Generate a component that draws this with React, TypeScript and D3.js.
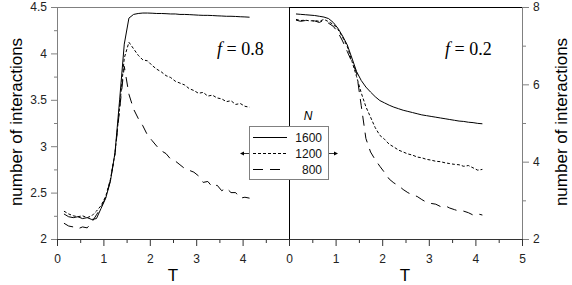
import React, { useRef, useEffect } from "react";
import * as d3 from "d3";

// temperature grid shared by all series
const temps = [
  0.15, 0.25, 0.35, 0.45, 0.55, 0.65, 0.75, 0.85, 0.95, 1.05, 1.15, 1.25, 1.35, 1.45,
  1.55, 1.65, 1.75, 1.85, 1.95, 2.05, 2.15, 2.25, 2.35, 2.45, 2.55, 2.65, 2.75, 2.85,
  2.95, 3.05, 3.15, 3.25, 3.35, 3.45, 3.55, 3.65, 3.75, 3.85, 3.95, 4.05, 4.15,
];

// f = 0.8 panel
const leftN1600 = [
  2.27, 2.24, 2.23, 2.24, 2.22, 2.23, 2.21, 2.22, 2.33, 2.44, 2.62, 2.93, 3.5, 4.1,
  4.38, 4.42, 4.43, 4.435, 4.435, 4.433, 4.43, 4.43, 4.428, 4.425, 4.425, 4.42, 4.42,
  4.418, 4.415, 4.412, 4.41, 4.41, 4.408, 4.405, 4.403, 4.4, 4.4, 4.398, 4.395, 4.393, 4.39,
];
const leftN1200 = [
  2.3, 2.27, 2.25, 2.24, 2.25, 2.23, 2.25, 2.3, 2.36, 2.46, 2.64, 2.92, 3.42, 3.95,
  4.12, 4.05, 3.98, 3.93, 3.92, 3.87, 3.83, 3.8, 3.76, 3.74, 3.7, 3.68, 3.66, 3.62,
  3.6, 3.57, 3.58, 3.54, 3.55, 3.52, 3.51, 3.48, 3.49, 3.45, 3.46, 3.43, 3.42,
];
const leftN800 = [
  2.17, 2.14, 2.13, 2.11, 2.13, 2.12, 2.18, 2.26, 2.34, 2.45, 2.63, 2.92, 3.4, 3.86,
  3.56, 3.4, 3.3, 3.22, 3.12, 3.06, 3.0, 2.95, 2.92, 2.86, 2.84, 2.8, 2.76, 2.74,
  2.72, 2.68, 2.61, 2.62, 2.56, 2.58, 2.52, 2.55, 2.5, 2.5, 2.44, 2.45, 2.44,
];

// f = 0.2 panel
const rightN1600 = [
  7.82, 7.81, 7.8, 7.79, 7.78, 7.76, 7.74, 7.7, 7.6, 7.45, 7.25, 7.02, 6.68, 6.33,
  6.1, 5.93, 5.8, 5.68, 5.58, 5.52, 5.46, 5.41, 5.37, 5.33, 5.3, 5.27, 5.24, 5.21,
  5.19, 5.17, 5.15, 5.13, 5.11, 5.09, 5.07, 5.05, 5.04, 5.02, 5.01, 4.99, 4.98,
];
const rightN1200 = [
  7.68, 7.65, 7.66, 7.64, 7.65, 7.63, 7.68, 7.62, 7.55, 7.42, 7.22, 6.98, 6.6, 6.2,
  5.78, 5.42, 5.15, 4.88, 4.68, 4.58, 4.45, 4.38, 4.3, 4.25, 4.2, 4.17, 4.12, 4.1,
  4.06, 4.04, 4.01, 4.0, 3.97, 3.95, 3.93, 3.92, 3.88, 3.9, 3.84, 3.78, 3.8,
];
const rightN800 = [
  7.66, 7.63, 7.65, 7.62, 7.64, 7.6, 7.66, 7.58, 7.5, 7.35, 7.12, 6.85, 6.58, 6.3,
  5.45, 4.6, 4.25, 4.05, 3.88, 3.72, 3.55, 3.45, 3.38, 3.28, 3.2, 3.14, 3.1, 3.02,
  2.95, 2.92, 2.9, 2.84, 2.86, 2.8, 2.76, 2.72, 2.72, 2.68, 2.62, 2.65, 2.62,
];

const leftTicks = [2, 2.5, 3, 3.5, 4, 4.5];
const leftMinor = [2.25, 2.75, 3.25, 3.75, 4.25];
const rightTicks = [2, 4, 6, 8];
const rightMinor = [3, 5, 7];
const tTicksLeft = [0, 1, 2, 3, 4];
const tTicksRight = [0, 1, 2, 3, 4, 5];
const tMinor = [0.5, 1.5, 2.5, 3.5, 4.5];
const legendN = ["1600", "1200", "800"];
const dashes = ["none", "3,2", "10,7"];

const W = 572;
const H = 285;
const SANS = "'Liberation Sans', Arial, sans-serif";
const SERIF = "'Liberation Serif', 'Times New Roman', serif";
const fmt = d3.format("");

const App: React.FC = () => {
  const svgRef = useRef<SVGSVGElement | null>(null);

  useEffect(() => {
    const svg = d3.select(svgRef.current);
    svg.selectAll("*").remove();

    const top = 7;
    const bottom = 239;
    const xL = d3.scaleLinear().domain([0, 5]).range([57, 289]);
    const xR = d3.scaleLinear().domain([0, 5]).range([289, 522]);
    const yL = d3.scaleLinear().domain([2, 4.5]).range([bottom, top]);
    const yR = d3.scaleLinear().domain([2, 8]).range([bottom, top]);

    const styleAxis = (g: any, color: string) => {
      g.attr("font-family", SANS).attr("font-size", 12).attr("color", color);
      g.selectAll("text").attr("fill", "#222");
    };

    // top frame
    svg.append("line").attr("x1", 57).attr("x2", 289).attr("y1", top + 0.5).attr("y2", top + 0.5)
      .attr("stroke", "#808080");
    svg.append("line").attr("x1", 289).attr("x2", 522).attr("y1", top + 0.5).attr("y2", top + 0.5)
      .attr("stroke", "#000");

    // left y axis
    const gl = svg.append("g").attr("transform", "translate(57,0)");
    gl.call(d3.axisLeft(yL).tickValues(leftTicks).tickSize(6).tickSizeOuter(0).tickPadding(4)
      .tickFormat(fmt as any) as any);
    styleAxis(gl, "#808080");
    const glm = svg.append("g").attr("transform", "translate(57,0)");
    glm.call(d3.axisLeft(yL).tickValues(leftMinor).tickSize(3).tickFormat(() => "") as any);
    glm.select(".domain").remove();
    glm.attr("color", "#808080");

    // right y axis
    const gr = svg.append("g").attr("transform", "translate(522,0)");
    gr.call(d3.axisRight(yR).tickValues(rightTicks).tickSize(7).tickSizeOuter(0).tickPadding(4)
      .tickFormat(fmt as any) as any);
    styleAxis(gr, "#808080");
    const grm = svg.append("g").attr("transform", "translate(522,0)");
    grm.call(d3.axisRight(yR).tickValues(rightMinor).tickSize(4).tickFormat(() => "") as any);
    grm.select(".domain").remove();
    grm.attr("color", "#808080");

    // bottom axes
    const gb1 = svg.append("g").attr("transform", `translate(0,${bottom})`);
    gb1.call(d3.axisBottom(xL).tickValues(tTicksLeft).tickSize(7).tickSizeOuter(0).tickPadding(8)
      .tickFormat(fmt as any) as any);
    styleAxis(gb1, "#333");
    const gb2 = svg.append("g").attr("transform", `translate(0,${bottom})`);
    gb2.call(d3.axisBottom(xR).tickValues(tTicksRight).tickSize(7).tickSizeOuter(0).tickPadding(8)
      .tickFormat(fmt as any) as any);
    styleAxis(gb2, "#333");
    [xL, xR].forEach((sc) => {
      const gm = svg.append("g").attr("transform", `translate(0,${bottom})`);
      gm.call(d3.axisBottom(sc).tickValues(tMinor).tickSize(4).tickFormat(() => "") as any);
      gm.select(".domain").remove();
      gm.attr("color", "#333");
    });

    // middle divider
    svg.append("line").attr("x1", 289.5).attr("x2", 289.5).attr("y1", top).attr("y2", bottom)
      .attr("stroke", "#000");

    // curves
    const drawSet = (x: any, y: any, sets: number[][]) => {
      sets.forEach((vals, k) => {
        const line = d3.line<number>()
          .x((_, i) => x(temps[i]))
          .y((d) => y(d));
        svg.append("path")
          .attr("d", line(vals))
          .attr("fill", "none")
          .attr("stroke", "#000")
          .attr("stroke-width", 1)
          .attr("stroke-dasharray", dashes[k]);
      });
    };
    drawSet(xL, yL, [leftN1600, leftN1200, leftN800]);
    drawSet(xR, yR, [rightN1600, rightN1200, rightN800]);

    // legend
    const lg = svg.append("g");
    lg.append("rect").attr("x", 249.5).attr("y", 126.5).attr("width", 79).attr("height", 53)
      .attr("fill", "#fff").attr("stroke", "#808080");
    legendN.forEach((n, k) => {
      const yy = 137.5 + k * 16;
      lg.append("line").attr("x1", 253).attr("x2", 287).attr("y1", yy).attr("y2", yy)
        .attr("stroke", "#000").attr("stroke-dasharray", dashes[k]);
      lg.append("text").attr("x", 322).attr("y", yy).attr("dy", "0.35em")
        .attr("text-anchor", "end").attr("font-family", SANS).attr("font-size", 12)
        .attr("fill", "#111").text(n);
    });
    lg.append("text").attr("x", 308).attr("y", 120).attr("text-anchor", "middle")
      .attr("font-family", SANS).attr("font-size", 12).attr("font-style", "italic").text("N");
    // arrows
    lg.append("line").attr("x1", 249).attr("x2", 243).attr("y1", 153.5).attr("y2", 153.5).attr("stroke", "#333");
    lg.append("path").attr("d", "M240,153.5L244,151.5L244,155.5Z").attr("fill", "#000");
    lg.append("line").attr("x1", 329).attr("x2", 335).attr("y1", 153.5).attr("y2", 153.5).attr("stroke", "#333");
    lg.append("path").attr("d", "M338,153.5L334,151.5L334,155.5Z").attr("fill", "#000");

    // f labels
    const fLabel = (x: number, val: string) => {
      const t = svg.append("text").attr("x", x).attr("y", 55).attr("font-family", SERIF)
        .attr("font-size", 18).attr("fill", "#000");
      t.append("tspan").attr("font-style", "italic").text("f");
      t.append("tspan").text(` = ${val}`);
    };
    fLabel(217, "0.8");
    fLabel(445, "0.2");

    // axis titles
    const title = (x: number, y: number, rot: number, s: string) =>
      svg.append("text").attr("transform", `translate(${x},${y}) rotate(${rot})`)
        .attr("text-anchor", "middle").attr("font-family", SANS).attr("font-size", 17)
        .attr("fill", "#000").text(s);
    title(22, 122, -90, "number of interactions");
    title(567, 122, -90, "number of interactions");
    title(173, 281, 0, "T");
    title(405, 281, 0, "T");
  }, []);

  return (
    <svg
      ref={svgRef}
      width={W}
      height={H}
      style={{ position: "absolute", left: 0, top: 0, background: "#fff" }}
    />
  );
};

export default App;
